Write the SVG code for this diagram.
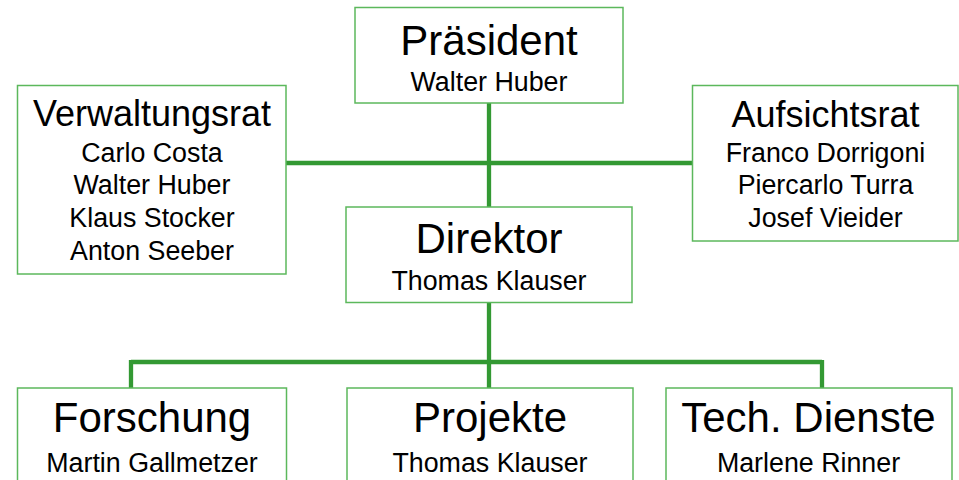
<svg xmlns="http://www.w3.org/2000/svg" width="959" height="480" viewBox="0 0 959 480">
<style>
.box{fill:#fff;stroke:#5cb85c;stroke-width:1.5}
.con{fill:none;stroke:#339933;stroke-width:4.3}
text{font-family:"Liberation Sans",Arial,sans-serif;fill:#000;text-anchor:middle}
.t{font-size:42px}
.ts{font-size:36px}
.n{font-size:26.8px}
</style>
<rect width="959" height="480" fill="#fff"/>
<g id="connectors">
<path class="con" d="M489,103 V207 M286,163 H692 M489,303 V388 M131,362 H822 M131,360 V388 M822,360 V388"/>
</g>
<g id="praesident">
<rect class="box" x="355" y="7.5" width="268" height="95.5"/>
<text class="t" x="489" y="55">Präsident</text>
<text class="n" x="489" y="90.5">Walter Huber</text>
</g>
<g id="verwaltungsrat">
<rect class="box" x="17.5" y="85.5" width="268.5" height="188.5"/>
<text class="ts" x="152" y="126">Verwaltungsrat</text>
<text class="n" x="152" y="162">Carlo Costa</text>
<text class="n" x="152" y="194">Walter Huber</text>
<text class="n" x="152" y="227">Klaus Stocker</text>
<text class="n" x="152" y="260">Anton Seeber</text>
</g>
<g id="aufsichtsrat">
<rect class="box" x="692.5" y="85.5" width="265.5" height="155.5"/>
<text class="ts" x="825.5" y="127">Aufsichtsrat</text>
<text class="n" x="825.5" y="162">Franco Dorrigoni</text>
<text class="n" x="825.5" y="194">Piercarlo Turra</text>
<text class="n" x="825.5" y="227">Josef Vieider</text>
</g>
<g id="direktor">
<rect class="box" x="346" y="207" width="286" height="95.5"/>
<text class="t" x="489" y="252.5">Direktor</text>
<text class="n" x="489" y="289.5">Thomas Klauser</text>
</g>
<g id="forschung">
<rect class="box" x="17.5" y="388" width="269" height="110"/>
<text class="t" x="152" y="432">Forschung</text>
<text class="n" x="152" y="472">Martin Gallmetzer</text>
</g>
<g id="projekte">
<rect class="box" x="347" y="388" width="286" height="110"/>
<text class="t" x="490" y="432">Projekte</text>
<text class="n" x="490" y="472">Thomas Klauser</text>
</g>
<g id="techdienste">
<rect class="box" x="666" y="388" width="286" height="110"/>
<text class="t" x="808.5" y="432">Tech. Dienste</text>
<text class="n" x="808.5" y="472">Marlene Rinner</text>
</g>
</svg>
